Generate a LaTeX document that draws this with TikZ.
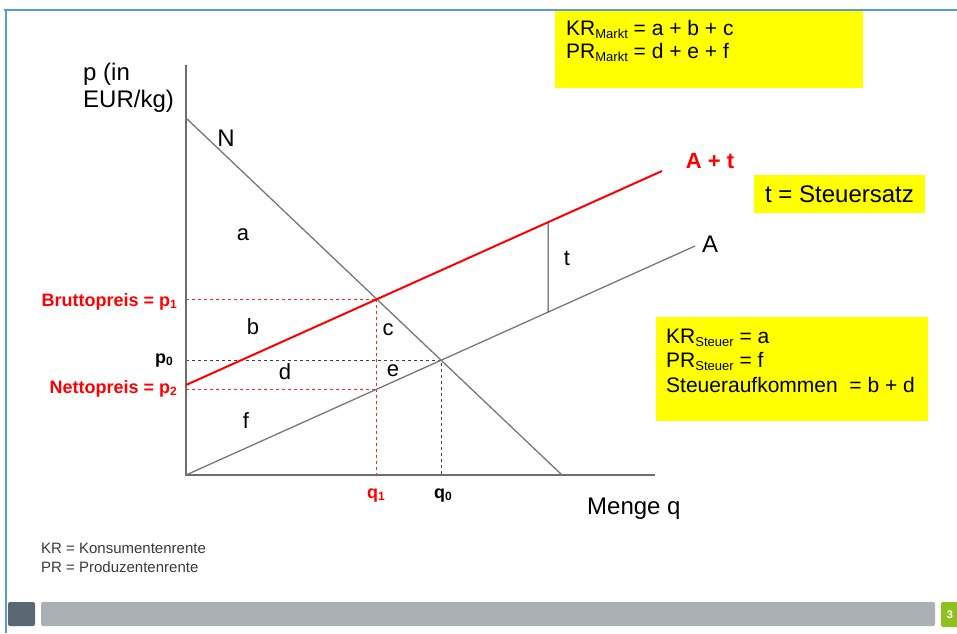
\documentclass[tikz,border=0pt]{standalone}
\usepackage{fontspec}
\setmainfont{Liberation Sans}
\definecolor{frameblue}{HTML}{5B9BD5}
\definecolor{linegray}{HTML}{777777}
\definecolor{axisgray}{HTML}{6E6E6E}
\definecolor{taxred}{HTML}{FF0000}
\definecolor{boxyellow}{HTML}{FFFF00}
\definecolor{bardark}{HTML}{5B6770}
\definecolor{bargray}{HTML}{AAB0B3}
\definecolor{bargreen}{HTML}{8CC21F}
\definecolor{legendgray}{HTML}{3A3A3A}
\newcommand{\lowsub}[2][13]{\raisebox{-0.3ex}{\fontsize{#1}{#1}\selectfont #2}}
\begin{document}
\begin{tikzpicture}[x=1pt,y=-1pt,
  big/.style={font=\fontsize{24}{28}\selectfont, inner sep=0pt},
  area/.style={font=\fontsize{22}{26}\selectfont, inner sep=0pt},
  boxtext/.style={font=\fontsize{21}{25}\selectfont, inner sep=0pt, anchor=base west},
  redlabel/.style={font=\fontsize{18}{22}\selectfont\bfseries, text=taxred, inner sep=0pt},
  blacklabel/.style={font=\fontsize{18}{22}\selectfont\bfseries, text=black, inner sep=0pt},
  legend/.style={font=\fontsize{15}{18}\selectfont, text=legendgray, inner sep=0pt, anchor=base west},
  curve/.style={draw=linegray, line width=1.3pt},
  taxcurve/.style={draw=taxred, line width=2pt},
  axisline/.style={draw=axisgray, line width=1.6pt},
  reddash/.style={draw=taxred!85, line width=0.8pt, dash pattern=on 3pt off 3pt},
  blackdash/.style={draw=black!75, line width=0.8pt, dash pattern=on 3pt off 3pt},
  yellowbox/.style={fill=boxyellow, draw=none}
]
\useasboundingbox (0,0) rectangle (957,633);
\fill[white] (0,0) rectangle (957,633);

% frame
\draw[frameblue, line width=2pt] (4,10) -- (957,10);
\draw[frameblue, line width=2pt] (6,10) -- (6,633);

% bottom bar
\fill[bardark, rounded corners=2pt] (8,602) rectangle (35,626);
\fill[bargray, rounded corners=2pt] (41,602) rectangle (935,626);
\fill[bargreen, rounded corners=2pt] (941,602) rectangle (970,627);
\node[text=white, font=\fontsize{11}{11}\selectfont\bfseries, inner sep=0pt] (pagenum) at (950,614.5) {3};

% yellow boxes
\fill[yellowbox] (555,11) rectangle (863,88);
\node[boxtext] (krmarkt) at (566,35) {KR\lowsub{Markt} = a + b + c};
\node[boxtext] (prmarkt) at (566,58) {PR\lowsub{Markt} = d + e + f};

\fill[yellowbox] (754,175) rectangle (925,213);
\node[big] (steuersatz) at (839.5,194) {t = Steuersatz};

\fill[yellowbox] (656,317) rectangle (928,421);
\node[boxtext] (krsteuer) at (666,343) {KR\lowsub{Steuer} = a};
\node[boxtext] (prsteuer) at (666,367) {PR\lowsub{Steuer} = f};
\node[boxtext] (aufkommen) at (666,392) {Steueraufkommen\ \ = b + d};

% key coordinates
\coordinate (O) at (186,475);
\coordinate (Ytop) at (186,65);
\coordinate (Xend) at (655,475);
\coordinate (Ntop) at (186,118);
\coordinate (Nbot) at (562,475);
\coordinate (Aend) at (695,246);
\coordinate (ATstart) at (186,385);
\coordinate (ATend) at (662,171);
\coordinate (E0) at (intersection of Ntop--Nbot and O--Aend);
\coordinate (E1) at (intersection of Ntop--Nbot and ATstart--ATend);
\coordinate (E1down) at (E1 |- O);
\coordinate (E2) at (intersection of E1--E1down and O--Aend);
\coordinate (tTop) at (548,100);
\coordinate (tBot) at (548,500);
\coordinate (tUp) at (intersection of tTop--tBot and ATstart--ATend);
\coordinate (tLow) at (intersection of tTop--tBot and O--Aend);

% dashed guides
\draw[reddash] (E1 -| O) -- (E1);
\draw[reddash] (E1) -- ([yshift=-3pt]E1down);
\draw[reddash] (E2 -| O) -- (E2);
\draw[blackdash] (E0 -| O) -- (E0) -- (E0 |- O);

% axes
\draw[axisline] (Ytop) -- (O) -- (Xend);

% curves
\draw[curve] (Ntop) -- (Nbot);
\draw[curve] (O) -- (Aend);
\draw[taxcurve] (ATstart) -- (ATend);
\draw[draw=black!75, line width=1pt] (tUp) -- (tLow);

% axis labels
\node[big, anchor=base west] (plabel1) at (83,80) {p (in};
\node[big, anchor=base west] (plabel2) at (83,107) {EUR/kg)};
\node[big, anchor=base west] (qlabel) at (587,514) {Menge q};

% curve labels
\node[big] (Nlabel) at (226,138) {N};
\node[big] (Alabel) at (710,244) {A};
\node[font=\fontsize{22}{26}\selectfont\bfseries, text=taxred, inner sep=0pt] (ATlabel) at (710,161) {A + t};

% area labels
\node[area] (la) at (243,235) {a};
\node[area] (lb) at (253,327) {b};
\node[area] (lc) at (388,330) {c};
\node[area] (ld) at (285,372) {d};
\node[area] (le) at (393,371) {e};
\node[area] (lf) at (246,421) {f};
\node[area] (lt) at (567,258) {t};

% price labels
\node[redlabel, anchor=base east] (brutto) at (177,306) {Bruttopreis = p\lowsub[12]{1}};
\node[blacklabel, anchor=base east] (pzero) at (173,363) {p\lowsub[12]{0}};
\node[redlabel, anchor=base east] (netto) at (177,393) {Nettopreis = p\lowsub[12]{2}};

% quantity labels
\node[redlabel, anchor=base] (qone) at (376,498) {q\lowsub[12]{1}};
\node[blacklabel, anchor=base west] (qzero) at (434,498) {q\lowsub[12]{0}};

% legend
\node[legend] (leg1) at (41,553) {KR = Konsumentenrente};
\node[legend] (leg2) at (41,572) {PR = Produzentenrente};
\end{tikzpicture}
\end{document}
